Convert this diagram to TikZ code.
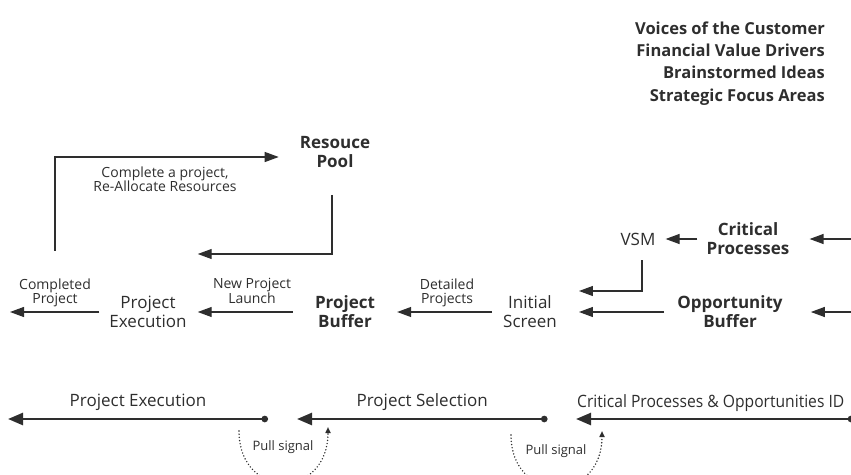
\documentclass[tikz,border=0pt]{standalone}
\usepackage{fontspec}
\setmainfont{Open Sans}
\newfontfamily\narrowsans[FakeStretch=0.92]{Open Sans}
\usepackage{tikz}
\usetikzlibrary{arrows.meta,positioning}
\definecolor{ink}{HTML}{2E2E2E}

\begin{document}
\begin{tikzpicture}[x=1pt,y=-1pt,
    stage/.style={font=\fontsize{17}{19}\selectfont},
    keystage/.style={font=\bfseries\fontsize{17}{19}\selectfont},
    note/.style={font=\fontsize{14}{14.5}\selectfont},
    signal/.style={font=\fontsize{13}{15}\selectfont},
    flow/.style={draw=ink,line width=1.2pt,-{Triangle[length=14pt,width=10pt]}},
    link/.style={flow,shorten <=11pt,shorten >=22pt},
    phase/.style={draw=ink,line width=2.5pt,{Circle[length=6.5pt]}-{Triangle[length=15pt,width=12pt]}},
    pull/.style={draw=ink,line width=1.6pt,line cap=round,dash pattern=on 0pt off 3.2pt,-{Triangle[length=6pt,width=5pt]}}]%
    \useasboundingbox (0,0) rectangle (851,474); %%
    \begin{scope}[inner sep=0pt,align=center,text=ink]%
    \tikzstyle{every node}=[text=ink] %%
    \node[anchor=east,align=right,font=\bfseries\fontsize{16.5}{22.3}\selectfont] (sources) at (825,63.5)
        {Voices of the Customer\\Financial Value Drivers\\Brainstormed Ideas\\Strategic Focus Areas}; %%
    \node[keystage] (pool) at (335,152) {Resouce\\Pool}; %%
    \node[stage] (exec) at (148,312) {Project\\Execution}; %%
    \node[keystage] (buffer) at (345,312) {Project\\Buffer}; %%
    \node[stage] (screen) at (530,312) {Initial\\Screen}; %%
    \node[keystage] (oppbuf) at (730,312) {Opportunity\\Buffer}; %%
    \node[stage] (vsm) at (638,239) {VSM}; %%
    \node[keystage] (critical) at (748,239) {Critical\\Processes}; %%
    \node[note] (completed) at (55,293) {Completed\\Project}; %%
    \node[note] (launch) at (252,291) {New Project\\Launch}; %%
    \node[note] (detailed) at (447,293) {Detailed\\Projects}; %%
    \node[note] (realloc) at (165,179) {Complete a project,\\Re-Allocate Resources}; %%
    \node[signal] (pull1) at (283,447) {Pull signal}; %%
    \node[signal] (pull2) at (556,451) {Pull signal}; %%
    \end{scope}
    % free ends
    \coordinate (done) at (10,312); %%
    \coordinate (oppin) at (851,312); %%
    \coordinate (critin) at (851,239); %%
    % project flow
    \draw[flow,shorten <=10pt] (exec) -- (done); %%
    \draw[link,shorten <=22pt,shorten >=11pt] (buffer) -- (exec); %%
    \draw[link] (screen) -- (buffer); %%
    \draw[link,shorten <=13pt] (oppbuf) -- (screen); %%
    \draw[flow,shorten >=28pt] (oppin) -- (oppbuf); %%
    \draw[flow,shorten <=9pt,shorten >=10pt] (critical) -- (vsm); %%
    \draw[flow,shorten >=20pt] (critin) -- (critical); %%
    \draw[link,shorten <=15pt] ([xshift=4pt]vsm.south) |- ([yshift=21pt]screen.east); %%
    \draw[link,shorten <=27pt,shorten >=11pt] ([xshift=-3pt]pool.south) |- ([yshift=58pt]exec.east); %%
    \draw[link,shorten <=28pt,shorten >=21pt] (completed.north) |- ([yshift=-5pt]pool.west); %%
    % phases
    \coordinate (execA) at (268,419); \coordinate (execB) at (8,419); %%
    \coordinate (selA) at (547.5,419); \coordinate (selB) at (297,419); %%
    \coordinate (idA) at (854.25,419); \coordinate (idB) at (576,419); %%
    \draw[phase] (execA) -- (execB) node[midway,above=7pt,stage,inner sep=0pt,text=ink] (execlabel) {Project Execution}; %%
    \draw[phase] (selA) -- (selB) node[midway,above=7pt,stage,inner sep=0pt,text=ink] (sellabel) {Project Selection}; %%
    \draw[phase] (idA) -- (idB); %%
    \node[inner sep=0pt,text=ink,anchor=south west,font=\narrowsans\fontsize{17}{19}\selectfont] (idlabel) at (577,412) {Critical Processes \& Opportunities ID}; %%
    % pull signals
    \coordinate (pullA1) at (239,431); \coordinate (pullB1) at (328,427); %%
    \coordinate (pullA2) at (511,435); \coordinate (pullB2) at (602,431); %%
    \draw[pull] (pullA1) .. controls (239,500) and (328,500) .. (pullB1); %%
    \draw[pull] (pullA2) .. controls (511,504) and (602,504) .. (pullB2); %%
\end{tikzpicture}
\end{document}
